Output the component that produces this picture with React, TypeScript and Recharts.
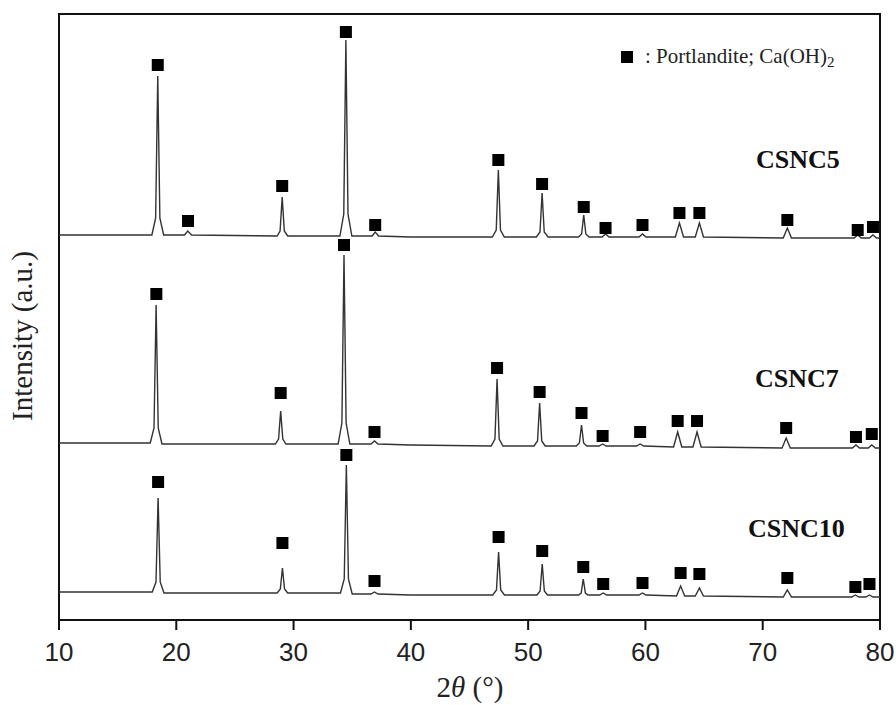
import React from 'react';
import {
  ComposedChart, Line, Scatter, XAxis, YAxis, ReferenceArea,
} from 'recharts';

// 2θ ticks
const xTicks = [10, 20, 30, 40, 50, 60, 70, 80];

// traces: [2θ, intensity (a.u., stacked offset)]
const csnc5: [number, number][] = [
  [10, 385], [15, 385],
  [17.92, 385], [18.24, 402], [18.42, 544], [18.6, 402], [18.92, 385],
  [20.7, 385], [20.98, 389], [21.3, 385],
  [28.6, 384], [28.85, 389], [29.03, 423], [29.21, 389], [29.5, 384],
  [33.95, 384], [34.28, 406], [34.46, 580], [34.64, 406], [34.97, 384],
  [36.7, 384], [36.96, 388], [37.25, 384],
  [40, 383],
  [46.95, 383], [47.28, 390], [47.46, 450], [47.64, 390], [47.97, 383],
  [50.7, 383], [51.01, 388], [51.19, 427], [51.37, 388], [51.7, 383],
  [54.3, 383], [54.56, 386], [54.74, 405], [54.92, 386], [55.2, 383],
  [56.3, 383], [56.6, 386], [56.9, 383],
  [59.45, 383], [59.75, 386], [60.05, 383],
  [62.55, 383], [62.9, 397], [63.25, 383],
  [64.25, 383], [64.6, 397], [64.95, 383],
  [71.75, 382], [72.1, 392], [72.45, 382],
  [77.8, 382], [78.1, 385], [78.4, 382],
  [79.1, 382], [79.4, 385], [79.7, 382],
  [80, 382],
];

const csnc7: [number, number][] = [
  [10, 177],
  [17.78, 177], [18.1, 192], [18.28, 315], [18.46, 192], [18.78, 176],
  [28.45, 176], [28.72, 181], [28.9, 209], [29.08, 181], [29.35, 176],
  [33.8, 176], [34.12, 197], [34.3, 365], [34.48, 197], [34.8, 176],
  [36.6, 176], [36.9, 179], [37.2, 176],
  [40, 175],
  [46.85, 174], [47.17, 181], [47.35, 241], [47.53, 181], [47.85, 174],
  [50.5, 174], [50.8, 179], [50.98, 217], [51.16, 179], [51.45, 174],
  [54.1, 174], [54.37, 177], [54.55, 195], [54.73, 177], [55.0, 174],
  [56.05, 174], [56.35, 176], [56.65, 174],
  [59.25, 174], [59.55, 176], [59.85, 174],
  [62.4, 173], [62.75, 188], [63.1, 173],
  [64.05, 173], [64.4, 188], [64.75, 173],
  [71.65, 172], [72.0, 182], [72.35, 172],
  [77.65, 172], [77.95, 175], [78.25, 172],
  [79.0, 172], [79.3, 175], [79.6, 172],
  [80, 172],
];

const csnc10: [number, number][] = [
  [10, 28],
  [17.95, 28], [18.27, 38], [18.45, 122], [18.63, 38], [18.95, 27],
  [28.6, 27], [28.87, 31], [29.05, 52], [29.23, 31], [29.5, 27],
  [34.0, 27], [34.32, 41], [34.5, 155], [34.68, 41], [35.0, 26],
  [36.6, 26], [36.9, 28], [37.2, 26],
  [40, 25],
  [46.98, 25], [47.3, 30], [47.48, 68], [47.66, 30], [47.98, 25],
  [50.75, 25], [51.02, 29], [51.2, 56], [51.38, 29], [51.65, 25],
  [54.3, 25], [54.52, 27], [54.7, 41], [54.88, 27], [55.1, 25],
  [56.1, 25], [56.4, 27], [56.7, 25],
  [59.45, 25], [59.75, 27], [60.05, 25],
  [62.65, 24], [63.0, 34], [63.35, 24],
  [64.25, 24], [64.6, 32], [64.95, 24],
  [71.75, 23], [72.1, 30], [72.45, 23],
  [77.6, 23], [77.9, 25], [78.2, 23],
  [78.8, 23], [79.1, 25], [79.4, 23],
  [80, 23],
];

// Portlandite markers above each peak
const marks5: [number, number][] = [
  [18.42, 555], [21.0, 399], [29.03, 434], [34.46, 588], [36.96, 395],
  [47.46, 460], [51.19, 436], [54.74, 413], [56.6, 392], [59.75, 395],
  [62.9, 407], [64.6, 407], [72.1, 400], [78.1, 390], [79.4, 393],
];
const marks7: [number, number][] = [
  [18.3, 326], [28.9, 227], [34.3, 375], [36.9, 188], [47.35, 252],
  [50.98, 228], [54.55, 207], [56.35, 184], [59.55, 188], [62.75, 199],
  [64.4, 199], [72.0, 192], [77.95, 183], [79.3, 186],
];
const marks10: [number, number][] = [
  [18.45, 138], [29.05, 77], [34.5, 165], [36.9, 39], [47.48, 83],
  [51.2, 69], [54.7, 53], [56.4, 36], [59.75, 37], [63.0, 47],
  [64.6, 46], [72.1, 42], [77.9, 33], [79.1, 36],
];

const toRows = (arr: [number, number][]) => arr.map(([x, y]) => ({ x, y }));

const LINE = '#333';
const SERIF = '"Liberation Serif", "Times New Roman", serif';

const Square = (props: any) => {
  const { cx, cy } = props;
  if (cx == null || cy == null) return null;
  return <rect x={cx - 6} y={cy - 6} width={12} height={12} fill="#000" />;
};

export default function App() {
  return (
    <div style={{ position: 'absolute', left: 0, top: 0, width: 896, height: 705, background: '#fff' }}>
      <ComposedChart width={896} height={705} margin={{ top: 14, right: 16, left: 59, bottom: 35 }}>
        <XAxis
          type="number" dataKey="x" domain={[10, 80]} ticks={xTicks} allowDataOverflow
          height={50} tickSize={10} tickMargin={13}
          axisLine={{ stroke: '#111', strokeWidth: 2 }}
          tickLine={{ stroke: '#111', strokeWidth: 2 }}
          tick={{ fontSize: 26, fill: '#222', fontFamily: '"Liberation Sans", Arial, sans-serif' }}
        />
        <YAxis type="number" dataKey="y" domain={[0, 606]} hide allowDataOverflow />
        <ReferenceArea x1={10} x2={80} y1={0} y2={606} fill="none" stroke="#111" strokeWidth={2} />
        <Line data={toRows(csnc5)} dataKey="y" type="linear" stroke={LINE} strokeWidth={1.4} dot={false} isAnimationActive={false} />
        <Line data={toRows(csnc7)} dataKey="y" type="linear" stroke={LINE} strokeWidth={1.4} dot={false} isAnimationActive={false} />
        <Line data={toRows(csnc10)} dataKey="y" type="linear" stroke={LINE} strokeWidth={1.4} dot={false} isAnimationActive={false} />
        <Scatter data={toRows(marks5)} dataKey="y" shape={Square} isAnimationActive={false} />
        <Scatter data={toRows(marks7)} dataKey="y" shape={Square} isAnimationActive={false} />
        <Scatter data={toRows(marks10)} dataKey="y" shape={Square} isAnimationActive={false} />
      </ComposedChart>
      <svg width={896} height={705} style={{ position: 'absolute', left: 0, top: 0, pointerEvents: 'none' }}>
        <text transform="rotate(-90)" x={-336} y={32} textAnchor="middle" fontFamily={SERIF} fontSize={29} fill="#222">
          Intensity (a.u.)
        </text>
        <text x={470} y={697} textAnchor="middle" fontFamily={SERIF} fontSize={29} fill="#222">
          2<tspan fontStyle="italic">θ</tspan> (°)
        </text>
        <rect x={621} y={51} width={12} height={12} fill="#000" />
        <text x={645} y={63} fontFamily={SERIF} fontSize={21} fill="#222">
          : Portlandite;  Ca(OH)<tspan fontSize={15} dy={4}>2</tspan>
        </text>
        <text x={756} y={168} fontFamily={SERIF} fontSize={26} fontWeight="bold" fill="#111">CSNC5</text>
        <text x={755} y={387} fontFamily={SERIF} fontSize={26} fontWeight="bold" fill="#111">CSNC7</text>
        <text x={748} y={537} fontFamily={SERIF} fontSize={26} fontWeight="bold" fill="#111">CSNC10</text>
      </svg>
    </div>
  );
}
